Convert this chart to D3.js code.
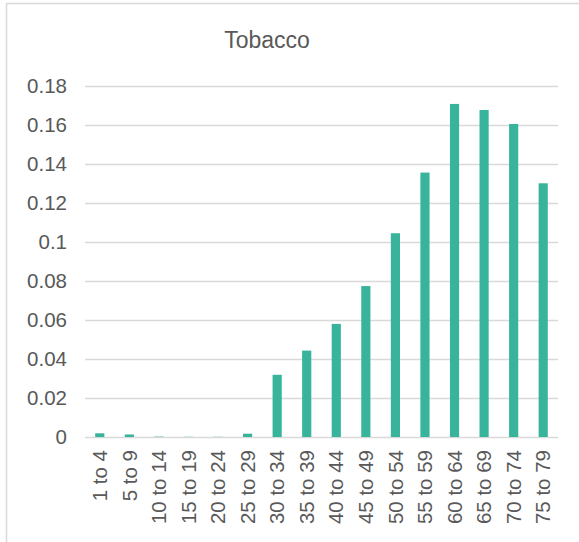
<!DOCTYPE html>
<html>
<head>
<meta charset="utf-8">
<script src="https://cdn.jsdelivr.net/npm/d3@7"></script>
<style>
  html, body { margin: 0; padding: 0; background: #fff; }
  svg { display: block; font-family: "Liberation Sans", Arial, sans-serif; }
</style>
</head>
<body>
<svg id="chart" width="579" height="542"></svg>
<script>
// Age groups and their tobacco shares
const ageGroups = ["1 to 4", "5 to 9", "10 to 14", "15 to 19", "20 to 24", "25 to 29",
  "30 to 34", "35 to 39", "40 to 44", "45 to 49", "50 to 54", "55 to 59",
  "60 to 64", "65 to 69", "70 to 74", "75 to 79"];
const shares = [0.0019, 0.0013, 0.0002, 0.0001, 0.0001, 0.0017,
  0.0319, 0.0443, 0.058, 0.0774, 0.1045, 0.1356,
  0.1708, 0.1677, 0.1605, 0.1301];
const yTicks = [0, 0.02, 0.04, 0.06, 0.08, 0.1, 0.12, 0.14, 0.16, 0.18];
const chartTitle = "Tobacco";

const svg = d3.select("#chart");
const textColor = "#595959";
const gridColor = "#d9d9d9";
const barColor = "#37b49b";

// outer frame of the chart area
svg.append("rect")
  .attr("x", 6.5).attr("y", 3.5)
  .attr("width", 640).attr("height", 640)
  .attr("fill", "none").attr("stroke", gridColor).attr("stroke-width", 1.5);

const plot = { left: 85, right: 558, top: 86, bottom: 437 };

const x = d3.scaleBand()
  .domain(ageGroups)
  .range([plot.left, plot.right])
  .paddingInner(0.69)
  .paddingOuter(0.345);

const y = d3.scaleLinear()
  .domain([0, 0.18])
  .range([plot.bottom, plot.top]);

// horizontal gridlines and value labels
const yAxis = d3.axisLeft(y)
  .tickValues(yTicks)
  .tickFormat(d => d3.format("~g")(d))
  .tickSize(-(plot.right - plot.left))
  .tickPadding(18);

const gy = svg.append("g")
  .attr("transform", `translate(${plot.left},0)`)
  .call(yAxis);
gy.select(".domain").remove();
gy.selectAll(".tick line")
  .attr("stroke", gridColor).attr("stroke-width", 1.5);
gy.selectAll(".tick text")
  .attr("fill", textColor)
  .attr("font-size", 20.5)
  .attr("font-family", "Liberation Sans, Arial, sans-serif");

// bars
svg.append("g").selectAll("rect")
  .data(ageGroups)
  .join("rect")
  .attr("x", d => x(d))
  .attr("width", x.bandwidth())
  .attr("y", (d, i) => y(shares[i]))
  .attr("height", (d, i) => y(0) - y(shares[i]))
  .attr("fill", barColor);

// category labels, rotated
const xAxis = d3.axisBottom(x).tickSize(0).tickPadding(0);
const gx = svg.append("g")
  .attr("transform", `translate(0,${plot.bottom})`)
  .call(xAxis);
gx.select(".domain").remove();
gx.selectAll(".tick text")
  .attr("fill", textColor)
  .attr("font-size", 20.5)
  .attr("font-family", "Liberation Sans, Arial, sans-serif")
  .attr("text-anchor", "end")
  .attr("transform", "translate(0,13) rotate(-90)")
  .attr("x", 0)
  .attr("y", 0)
  .attr("dy", "0.35em");

// title
svg.append("text")
  .attr("x", 267)
  .attr("y", 47.5)
  .attr("text-anchor", "middle")
  .attr("fill", textColor)
  .attr("font-size", 23)
  .text(chartTitle);
</script>
</body>
</html>
